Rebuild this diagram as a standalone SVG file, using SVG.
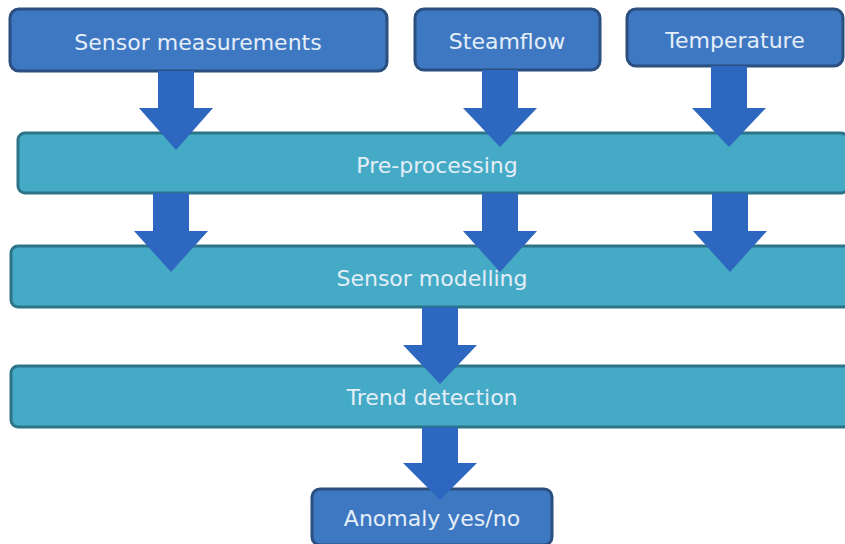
<svg xmlns="http://www.w3.org/2000/svg" width="845" height="544" viewBox="0 0 845 544">
<style>
.box{fill:#3f78c2;stroke:#2b4f7f;stroke-width:3}
.bar{fill:#44aac6;stroke:#2d7489;stroke-width:3}
.arr{fill:#2e67bf}
text{font-family:"DejaVu Sans",Verdana,sans-serif;font-size:22px;fill:#e4eef8;text-anchor:middle;dominant-baseline:central}
</style>
<rect width="845" height="544" fill="#ffffff"/>
<g id="sensor-measurements"><rect class="box" x="10" y="9" width="377" height="62" rx="9"/><text x="198" y="42">Sensor measurements</text></g>
<g id="steamflow"><rect class="box" x="415" y="9" width="185" height="61" rx="9"/><text x="507" y="41">Steamflow</text></g>
<g id="temperature"><rect class="box" x="627" y="9" width="216" height="57" rx="9"/><text x="735" y="40">Temperature</text></g>
<g id="pre-processing"><rect class="bar" x="18" y="133" width="830" height="60" rx="7"/><text x="437" y="165">Pre-processing</text></g>
<g id="sensor-modelling"><rect class="bar" x="11" y="246" width="840" height="61" rx="7"/><text x="432" y="278">Sensor modelling</text></g>
<g id="trend-detection"><rect class="bar" x="11" y="366" width="840" height="61" rx="7"/><text x="432" y="397">Trend detection</text></g>
<g id="anomaly"><rect class="box" x="312" y="489" width="240" height="56" rx="8"/><text x="432" y="518">Anomaly yes/no</text></g>
<g id="connectors">
<path class="arr" d="M158 71H194V108H213L176 150L139 108H158Z"/>
<path class="arr" d="M482 70H518V108H537L500 147L463 108H482Z"/>
<path class="arr" d="M711 66H747V108H766L729 147L692 108H711Z"/>
<path class="arr" d="M153 193H189V231H208L171 272L134 231H153Z"/>
<path class="arr" d="M482 193H518V231H537L500 272L463 231H482Z"/>
<path class="arr" d="M712 193H748V231H767L730 272L693 231H712Z"/>
<path class="arr" d="M422 307H458V345H477L440 384L403 345H422Z"/>
<path class="arr" d="M422 427H458V463H477L440 500L403 463H422Z"/>
</g>
</svg>
